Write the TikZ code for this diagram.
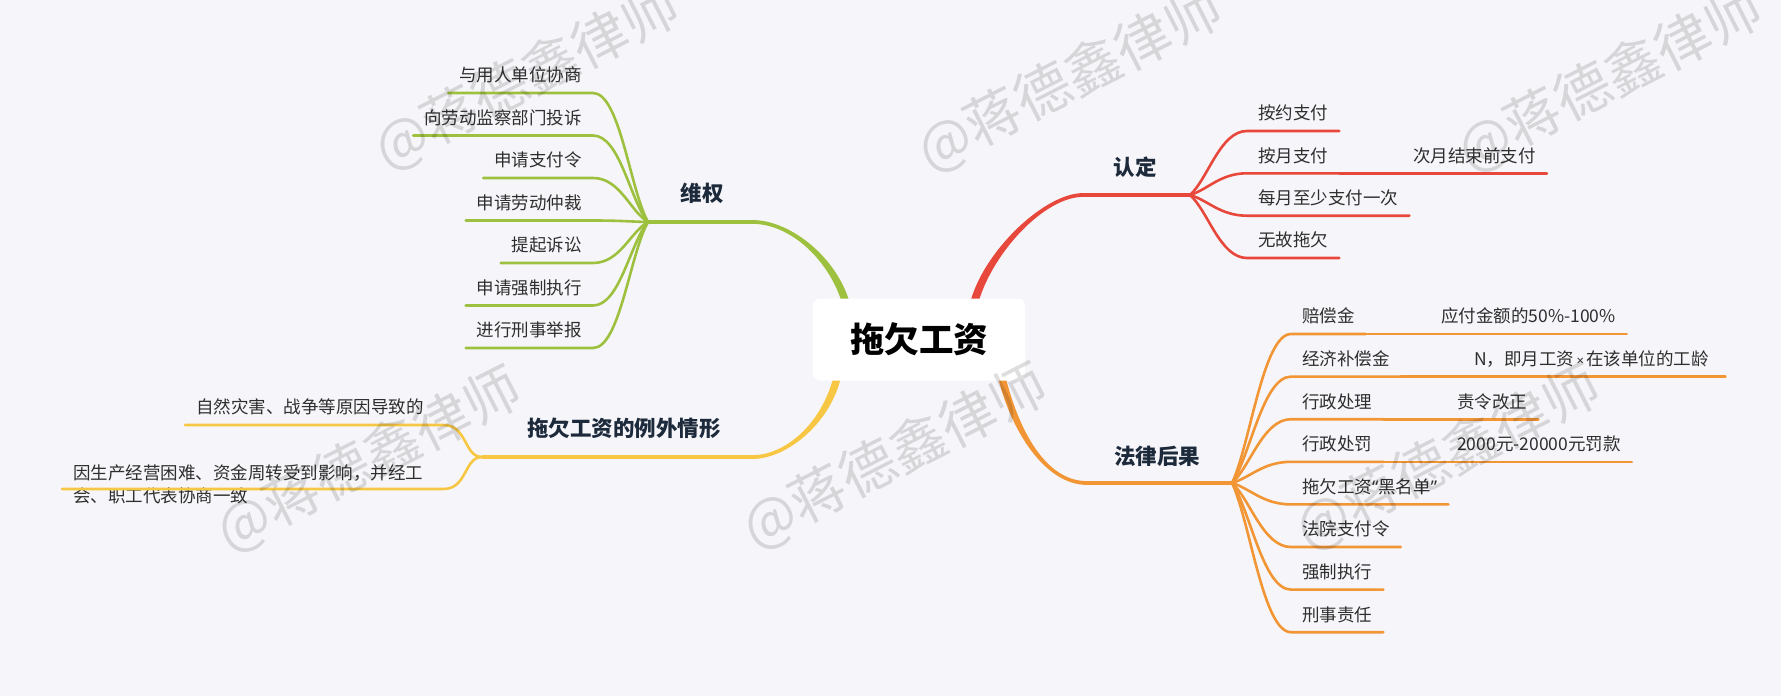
\documentclass[tikz,border=0pt]{standalone}
\usepackage{fontspec}
\setmainfont{Noto Sans CJK SC}
\newfontfamily\latinfont{Noto Sans}
\usetikzlibrary{calc}
\definecolor{bgc}{HTML}{F6F6FA}
\definecolor{cg}{HTML}{9DC03E}
\definecolor{cr}{HTML}{E8483B}
\definecolor{co}{HTML}{F29535}
\definecolor{cy}{HTML}{F7C744}
\definecolor{txt}{HTML}{2E2E2E}
\definecolor{lbl}{HTML}{1D2A3B}
\tikzset{
  leaf/.style={font=\fontsize{17.5}{23}\selectfont, text=txt, inner xsep=11pt, inner ysep=7pt, text height=13pt, text depth=4pt},
  leafL/.style={leaf, anchor=south east},
  leafR/.style={leaf, anchor=south west},
  mainlbl/.style={font=\fontsize{21.5}{26}\selectfont\bfseries, text=lbl, anchor=base, inner sep=0pt},
  twig/.style={line width=2.6pt, line cap=round},
  wmark/.style={font=\fontsize{56}{60}\selectfont, text=black, text opacity=0.13, rotate=27, inner sep=0pt},
}
% twig: color, hub, child, d1, d2, factor
\newcommand\twigL[6]{\draw[twig,#1] (#3.south west) -- (#3.south east) .. controls +(#4,0) and ($(#2)!#6!(#2|-#3.south east)+(#5,0)$) .. (#2);}
\newcommand\twigR[6]{\draw[twig,#1] (#3.south east) -- (#3.south west) .. controls +(#4,0) and ($(#2)!#6!(#2|-#3.south west)+(#5,0)$) .. (#2);}
% tapered trunk: color, B, c1, c2, H, o0, o1
\newcommand\trunk[7]{\fill[#1] ($(#2)+(#6)$) .. controls ($(#3)+(#6)$) and ($(#4)+(#7)$) .. ($(#5)+(#7)$) -- ($(#5)-(#7)$) .. controls ($(#4)-(#7)$) and ($(#3)-(#6)$) .. ($(#2)-(#6)$) -- cycle;}
\begin{document}
\begin{tikzpicture}[x=1pt,y=-1pt]
\fill[bgc] (0,0) rectangle (1781,696);
\useasboundingbox (0,0) rectangle (1781,696);

% ---------- coordinates of trunks ----------
\coordinate (gB) at (845,300); \coordinate (gc1) at (830,255); \coordinate (gc2) at (788,222); \coordinate (gH) at (753,222); \coordinate (gU) at (648,222);
\coordinate (rB) at (975,300); \coordinate (rc1) at (990,250); \coordinate (rc2) at (1045,195); \coordinate (rH) at (1083,195); \coordinate (rU) at (1190,195);
\coordinate (oB) at (1002,378); \coordinate (oc1) at (1015,430); \coordinate (oc2) at (1045,483); \coordinate (oH) at (1087,483); \coordinate (oU) at (1232,483);
\coordinate (yB) at (837,378); \coordinate (yc1) at (825,425); \coordinate (yc2) at (785,457); \coordinate (yH) at (753,457); \coordinate (yU) at (482,457);

\trunk{cg}{gB}{gc1}{gc2}{gH}{3.5,-1.2}{0,-1.9}
\trunk{cr}{rB}{rc1}{rc2}{rH}{3.8,1.1}{0,1.9}
\trunk{co}{oB}{oc1}{oc2}{oH}{3.6,-0.9}{0,-1.9}
\trunk{cy}{yB}{yc1}{yc2}{yH}{3.6,0.9}{0,1.9}
\draw[line width=3.8pt, cg] (gH) -- (gU);
\draw[line width=3.8pt, cr] (rH) -- (rU);
\draw[line width=3.8pt, co] (oH) -- (oU);
\draw[line width=3.8pt, cy] (yH) -- (yU);

% ---------- main labels ----------
\node[mainlbl] (wq) at (702,201) {维权};
\node[mainlbl] (rd) at (1135,175) {认定};
\node[mainlbl] (fl) at (1157,464) {法律后果};
\node[mainlbl] (lw) at (624,436.5) {拖欠工资的例外情形};

% ---------- 维权 ----------
\node[leafL] (g1) at (593,93) {与用人单位协商};
\node[leafL] (g2) at (593,135.5) {向劳动监察部门投诉};
\node[leafL] (g3) at (593,178) {申请支付令};
\node[leafL] (g4) at (593,220.5) {申请劳动仲裁};
\node[leafL] (g5) at (593,263) {提起诉讼};
\node[leafL] (g6) at (593,305.5) {申请强制执行};
\node[leafL] (g7) at (593,348) {进行刑事举报};
\foreach \n in {g1,g2,g3,g4,g5,g6,g7} {\twigL{cg}{gU}{\n}{27}{-18}{0.25}}

% ---------- 认定 ----------
\node[leafR] (r1) at (1247,131) {按约支付};
\node[leafR] (r2) at (1247,173.3) {按月支付};
\node[leafR] (r3) at (1247,215.7) {每月至少支付一次};
\node[leafR] (r4) at (1247,258) {无故拖欠};
\node[leafR] (r2a) at (1402,173.3) {次月结束前支付};
\foreach \n in {r1,r2,r3,r4} {\twigR{cr}{rU}{\n}{-27}{18}{0.25}}
\draw[twig,cr] (r2.south east) -- (r2a.south west) -- (r2a.south east);

% ---------- 法律后果 ----------
\node[leafR] (o1) at (1291,334) {赔偿金};
\node[leafR] (o2) at (1291,376.6) {经济补偿金};
\node[leafR] (o3) at (1291,419.2) {行政处理};
\node[leafR] (o4) at (1291,461.8) {行政处罚};
\node[leafR] (o5) at (1291,504.4) {拖欠工资{\latinfont “}黑名单{\latinfont ”}};
\node[leafR] (o6) at (1291,547) {法院支付令};
\node[leafR] (o7) at (1291,589.6) {强制执行};
\node[leafR] (o8) at (1291,632.2) {刑事责任};
\node[leafR] (o1a) at (1430,334) {应付金额的50\%-100\%};
\node[leafR, text width=240pt, align=left] (o2a) at (1463,376.6) {N，即月工资{\latinfont\fontsize{13}{15}\selectfont\,×\,}在该单位的工龄};
\node[leafR] (o3a) at (1446,419.2) {责令改正};
\node[leafR] (o4a) at (1446,461.8) {2000元-20000元罚款};
\foreach \n in {o1,o2,o3,o4,o5,o6,o7,o8} {\twigR{co}{oU}{\n}{-28}{18}{0.25}}
\foreach \p/\c in {o1/o1a,o2/o2a,o3/o3a,o4/o4a} {\draw[twig,co] (\p.south east) -- (\c.south west) -- (\c.south east);}

% ---------- 例外情形 ----------
\node[leaf, anchor=south west, text width=236pt, align=left] (y1) at (185,425) {自然灾害、战争等原因导致的};
\node[leaf, anchor=south west, text width=359pt, align=left, inner ysep=5.5pt] (y2) at (62,489) {因生产经营困难、资金周转受到影响，并经工\\会、职工代表协商一致};
\foreach \n in {y1,y2} {\twigL{cy}{yU}{\n}{24}{-18}{0}}

% ---------- root ----------
\node[font=\fontsize{34.5}{40}\selectfont\bfseries, text=black, fill=white, rounded corners=7pt, minimum width=212pt, minimum height=82pt, text height=30pt, text depth=4pt, inner sep=0pt] (root) at (919,339.5) {拖欠工资};

% ---------- watermarks ----------
\node[wmark] (w1) at (527,78) {@蒋德鑫律师};
\node[wmark] (w2) at (1070,80) {@蒋德鑫律师};
\node[wmark] (w3) at (1610,80) {@蒋德鑫律师};
\node[wmark] (w4) at (369,460) {@蒋德鑫律师};
\node[wmark] (w5) at (895,457) {@蒋德鑫律师};
\node[wmark] (w6) at (1448,458) {@蒋德鑫律师};
\end{tikzpicture}
\end{document}
